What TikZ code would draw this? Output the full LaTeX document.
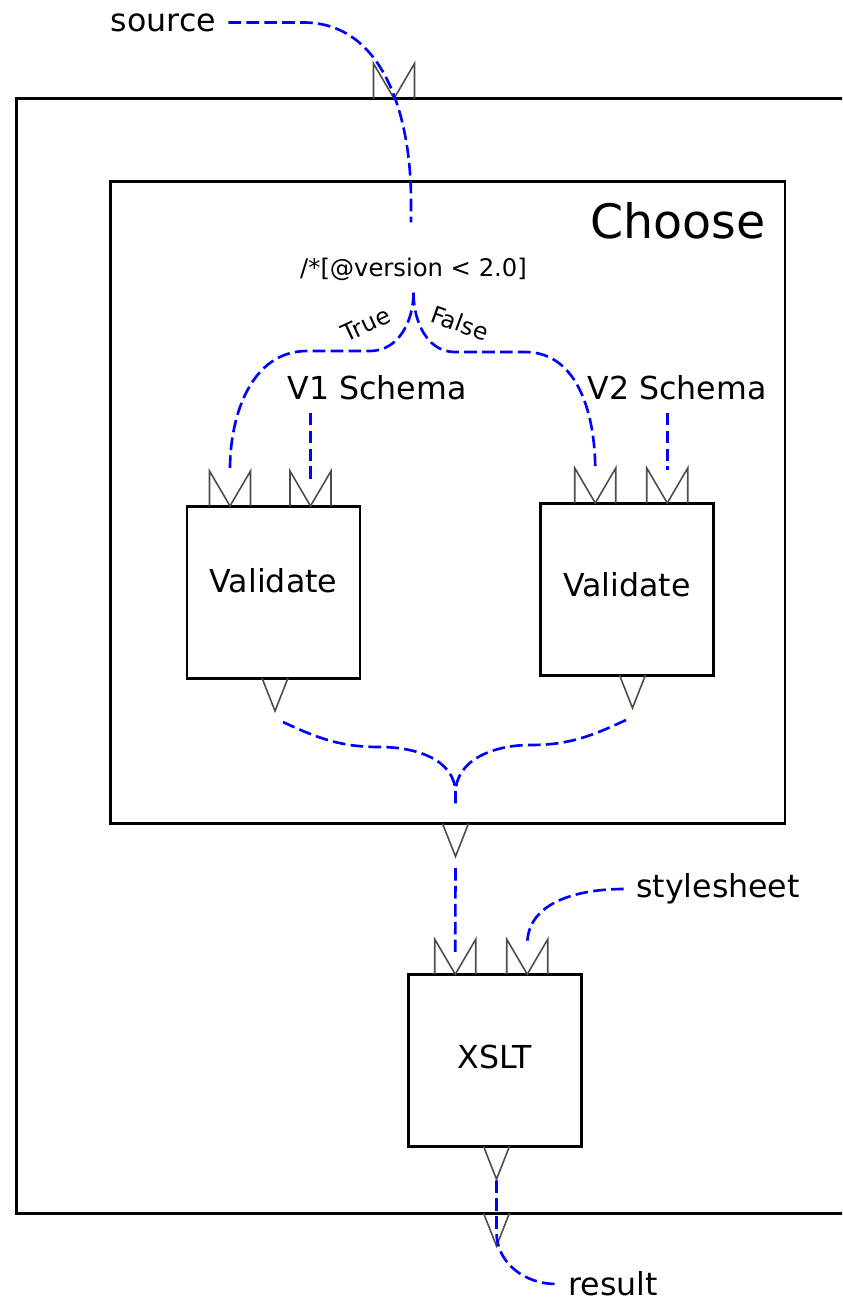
\documentclass[tikz,border=0pt]{standalone}
\usepackage{fontspec}
\setmainfont{DejaVu Sans}
\usetikzlibrary{positioning}
\tikzset{>=latex,
  blk/.style={draw, line width=0.85pt, outer sep=0pt, inner sep=0pt},
  stage/.style={blk, minimum width=1.73cm, minimum height=1.72cm, font=\fontsize{9}{11}\selectfont},
  lbl/.style={font=\fontsize{9}{11}\selectfont},
  tiny/.style={font=\fontsize{6.7}{8}\selectfont, inner sep=1pt},
  wire/.style={draw=blue, line width=0.75pt, dash pattern=on 3.6pt off 1.5pt},
  portline/.style={draw=black!70, line width=0.45pt}
}

\begin{document}
\begin{tikzpicture}
      \useasboundingbox (0,0) rectangle (8.42,-13.01);
      \clip (0,0) rectangle (8.42,-13.01);
      \node[blk, minimum width=8.535cm, minimum height=11.145cm] (n0) at (4.4325,-6.5575) {};
      \node[blk, minimum width=6.745cm, minimum height=6.42cm] (n1) at (4.4775,-5.025) {};
      \node[font=\fontsize{13.5}{16}\selectfont, anchor=base east, inner sep=0pt] (nchoose) at (7.66,-2.38) {Choose};
      \node[stage, text depth=0.24cm] (n21) at (2.735,-5.92) {Validate};
      \node[stage, text depth=0.10cm] (n22) at (6.2675,-5.89) {Validate};
      \node[stage, text depth=0.07cm] (n3) at (4.9475,-10.6025) {XSLT};
      \node[lbl] (src) at (1.635,-0.225) {source};
      \node[font=\fontsize{6.9}{8}\selectfont] (cond) at (4.135,-2.69) {/*[@version < 2.0]};
      \node[tiny, rotate=25] (ntrue) at (3.66,-3.245) {True};
      \node[tiny, rotate=-20] (nfalse) at (4.60,-3.23) {False};
      \node[lbl] (v1s) at (3.77,-3.88) {V1 Schema};
      \node[lbl] (v2s) at (6.77,-3.88) {V2 Schema};
      \node[lbl] (sty) at (7.18,-8.89) {stylesheet};
      \node[lbl] (res) at (6.13,-12.84) {result};
      \coordinate (in0) at ([xshift=3.775cm]n0.north west);
      \coordinate (in11) at ([xshift=0.43cm]n21.north west);
      \coordinate (in12) at ([xshift=1.235cm]n21.north west);
      \coordinate (in21) at ([xshift=0.55cm]n22.north west);
      \coordinate (in22) at ([xshift=1.27cm]n22.north west);
      \coordinate (in31) at ([xshift=0.47cm]n3.north west);
      \coordinate (in32) at ([xshift=1.19cm]n3.north west);
      \coordinate (out21) at ([xshift=0.015cm]n21.south);
      \coordinate (out22) at ([xshift=0.0575cm]n22.south);
      \coordinate (out1) at ([xshift=0.0775cm]n1.south);
      \coordinate (out3) at ([xshift=0.0175cm]n3.south);
      \coordinate (out0) at ([xshift=0.5325cm]n0.south);
      \foreach \p in {in0,in11,in12,in21,in22,in31,in32}
        \draw[portline] ([xshift=-0.205cm]\p) -- ++(0,0.35) -- ++(0.205,-0.35) -- ++(0.205,0.35) -- ++(0,-0.35);
      \foreach \p in {out21,out22,out1,out3,out0}
        \draw[portline] ([xshift=-0.13cm]\p) -- ++(0.13,-0.33) -- ++(0.13,0.33);
      \draw[wire] (src.east) -- ++(0.75,0) to[out=0,in=90] ([shift={(-0.025,0.45)}]cond.north) -- ([shift={(-0.025,0.23)}]cond.north);
      \draw[wire] (cond.south) to[out=-90,in=0] (3.70,-3.51) -- (3.07,-3.51) to[out=180,in=90] ([yshift=0.37cm]in11);
      \draw[wire] (cond.south) to[out=-90,in=180] (4.55,-3.52) -- (5.25,-3.52) to[out=0,in=90] ([yshift=0.33cm]in21);
      \draw[wire] (v1s.south -| in12) -- ([yshift=0.23cm]in12);
      \draw[wire] (v2s.south -| in22) -- ([yshift=0.33cm]in22);
      \draw[wire] ([shift={(0.08,-0.44)}]out21) to[out=-25,in=180] (3.80,-7.47) to[out=0,in=90] ([yshift=0.3cm]out1) -- ([yshift=0.185cm]out1);
      \draw[wire] ([shift={(-0.065,-0.45)}]out22) to[out=-155,in=0] (5.30,-7.45) to[out=180,in=90] ([yshift=0.3cm]out1);
      \draw[wire] ([yshift=-0.445cm]out1) -- ([yshift=0.225cm]in31);
      \draw[wire] (sty.west) to[out=180,in=90] ([yshift=0.3cm]in32);
      \draw[wire] ([yshift=-0.34cm]out3) -- ++(0,-0.52) to[out=-90,in=180] (res.west);
\end{tikzpicture}
\end{document}
